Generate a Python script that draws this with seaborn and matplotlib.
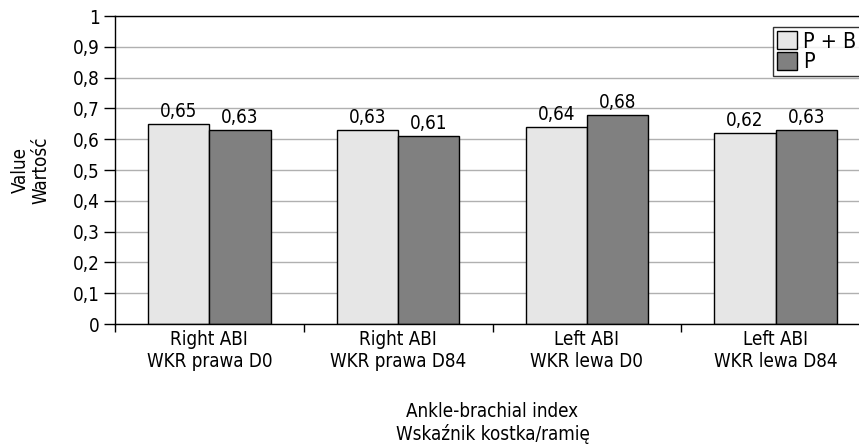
import matplotlib
matplotlib.use("Agg")
import matplotlib.pyplot as plt
import seaborn as sns
import pandas as pd
from matplotlib.ticker import FixedLocator, FuncFormatter

categories = ["Right ABI\nWKR prawa D0", "Right ABI\nWKR prawa D84",
              "Left ABI\nWKR lewa D0", "Left ABI\nWKR lewa D84"]
series_names = ["P + B", "P"]
values_pb = [0.65, 0.63, 0.64, 0.62]
values_p = [0.63, 0.61, 0.68, 0.63]
y_ticks = [0, 0.1, 0.2, 0.3, 0.4, 0.5, 0.6, 0.7, 0.8, 0.9, 1]

df = pd.DataFrame({
    "cat": categories * 2,
    "series": [series_names[0]] * 4 + [series_names[1]] * 4,
    "value": values_pb + values_p,
})

sns.set_style("white")
plt.rcParams["font.family"] = ["DejaVu Sans"]
plt.rcParams["font.stretch"] = "condensed"
plt.rcParams["text.color"] = "black"
plt.rcParams["axes.labelcolor"] = "black"
plt.rcParams["xtick.color"] = "black"
plt.rcParams["ytick.color"] = "black"

fig = plt.figure(figsize=(8.59, 4.46), dpi=100)
ax = fig.add_axes([115 / 859, 1 - 324 / 446, 755 / 859, 308 / 446])

sns.barplot(data=df, x="cat", y="value", hue="series", order=categories,
            hue_order=series_names, palette=["#e6e6e6", "#808080"],
            width=0.65, edgecolor="black", linewidth=1, saturation=1,
            ax=ax, legend=True)

fs = 13.5
for cont in ax.containers:
    ax.bar_label(cont, labels=[f"{v:.2f}".replace(".", ",") for v in cont.datavalues],
                 padding=2, fontsize=fs, color="black")

ax.set_ylim(0, 1)
ax.set_xlim(-0.5, 3.5)
ax.yaxis.set_major_locator(FixedLocator(y_ticks))
ax.yaxis.set_major_formatter(FuncFormatter(lambda v, p: ("%g" % v).replace(".", ",")))
ax.yaxis.grid(True, color="#b0b0b0", linewidth=1)
ax.set_axisbelow(True)
ax.tick_params(axis="y", which="major", left=True, length=8, width=1, color="black",
               labelsize=fs, pad=3)
ax.tick_params(axis="x", which="major", bottom=False, labelsize=fs, pad=1)
ax.xaxis.set_minor_locator(FixedLocator([-0.5, 0.5, 1.5, 2.5, 3.5]))
ax.tick_params(axis="x", which="minor", bottom=True, length=6, width=1, color="black")
for s in ["left", "bottom", "top", "right"]:
    ax.spines[s].set_color("black")
    ax.spines[s].set_linewidth(1)

ax.set_xlabel("Ankle-brachial index\nWskaźnik kostka/ramię", fontsize=fs, labelpad=22,
              linespacing=1.2)
ax.set_ylabel("Value\nWartość", fontsize=fs, labelpad=16, linespacing=1.15)

leg = ax.legend(loc="upper left", bbox_to_anchor=((773 - 115) / 755, 1 - (27 - 16) / 308),
                frameon=True, fancybox=False, edgecolor="black", fontsize=15.5,
                handlelength=0.9, handleheight=0.9, handletextpad=0.3,
                borderpad=0.2, labelspacing=0.0, borderaxespad=0)
leg.get_frame().set_linewidth(1)

fig.savefig("out.png", dpi=100)
